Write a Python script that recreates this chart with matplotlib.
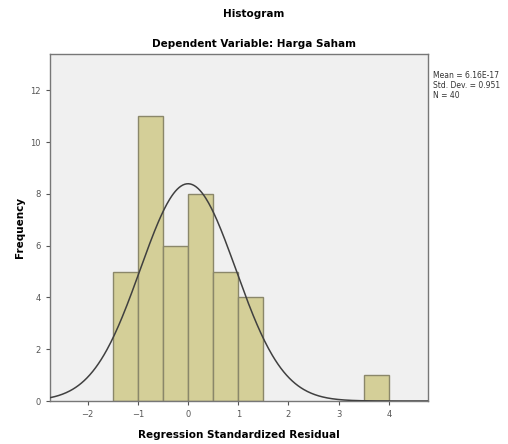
import matplotlib
matplotlib.use('Agg')
import matplotlib.pyplot as plt
import numpy as np

# histogram of residuals (bin edges and counts)
bin_left = [-1.5, -1.0, -0.5, 0.0, 0.5, 1.0, 3.5]
counts = [5, 11, 6, 8, 5, 4, 1]
bin_width = 0.5
mean = 6.16e-17
std = 0.951
n = 40

xticks = [-2, -1, 0, 1, 2, 3, 4]
yticks = [0, 2, 4, 6, 8, 10, 12]

fig = plt.figure(figsize=(5.08, 4.44), dpi=100)
ax = fig.add_axes([0.0984, 0.0968, 0.7441, 0.7816])
ax.set_facecolor('#f0f0f0')

ax.bar(bin_left, counts, width=bin_width, align='edge',
       color='#d4cf98', edgecolor='#8a876a', linewidth=1.0, zorder=2)

xs = np.linspace(-2.75, 4.8, 400)
pdf = n * bin_width / (std * np.sqrt(2 * np.pi)) * np.exp(-0.5 * ((xs - mean) / std) ** 2)
ax.plot(xs, pdf, color='#404040', linewidth=1.1, zorder=3)

ax.set_xlim(-2.75, 4.78)
ax.set_ylim(0, 13.4)
ax.set_xticks(xticks)
ax.set_yticks(yticks)
ax.tick_params(axis='both', labelsize=6, colors='#555555', length=3, width=0.8)
for s in ax.spines.values():
    s.set_color('#777777')
    s.set_linewidth(1.0)

ax.set_xlabel('Regression Standardized Residual', fontsize=7.5, fontweight='bold', labelpad=8)
ax.set_ylabel('Frequency', fontsize=7.5, fontweight='bold', labelpad=4)

fig.text(0.5, 0.968, 'Histogram', ha='center', va='center', fontsize=7.5, fontweight='bold')
fig.text(0.5, 0.90, 'Dependent Variable: Harga Saham', ha='center', va='center',
         fontsize=7.5, fontweight='bold')

fig.text(0.853, 0.808, 'Mean = 6.16E-17\nStd. Dev. = 0.951\nN = 40', ha='left', va='center',
         fontsize=5.5, color='#333333', linespacing=1.15)

fig.savefig('out.png', dpi=100)
